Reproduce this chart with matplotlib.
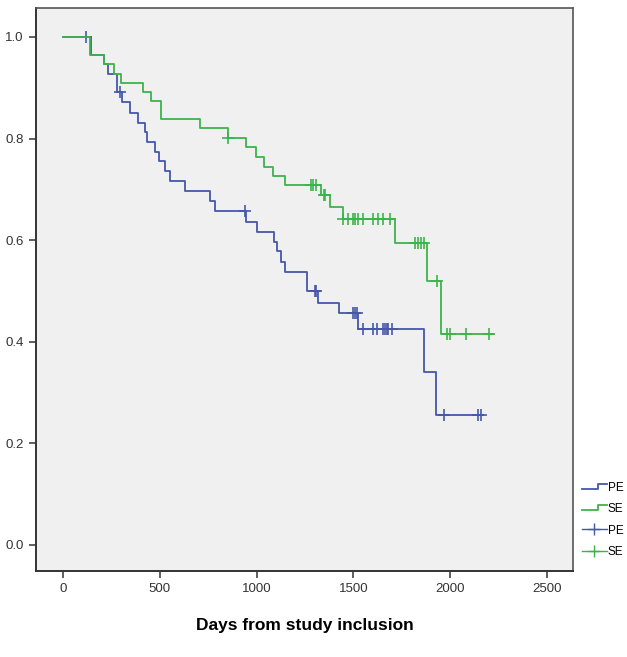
import numpy as np
import matplotlib
matplotlib.use("Agg")
import matplotlib.pyplot as plt
from matplotlib.lines import Line2D
from matplotlib.legend_handler import HandlerBase

plt.rcParams['font.family'] = ['Liberation Sans', 'DejaVu Sans']

# DADOS - curvas de Kaplan-Meier

# PE (azul): tempos dos eventos e sobrevida apos cada evento
pe_times = [143, 210, 232, 277, 303, 346, 389, 424, 434, 475, 497, 527, 553,
            630, 759, 785, 945, 1000, 1090, 1105, 1126, 1147, 1258, 1319,
            1427, 1522, 1865, 1925]
pe_surv = [0.964, 0.946, 0.927, 0.891, 0.871, 0.851, 0.831, 0.812, 0.793,
           0.774, 0.755, 0.736, 0.717, 0.697, 0.677, 0.657, 0.636, 0.617,
           0.597, 0.579, 0.558, 0.538, 0.499, 0.477, 0.456, 0.425, 0.341,
           0.256]
pe_end = 2170
pe_censored = [119, 294, 940, 1300, 1307, 1500, 1510, 1517, 1550, 1601, 1622,
               1653, 1663, 1672, 1679, 1699, 1968, 2145, 2157]

# SE (verde)
se_times = [140, 210, 265, 300, 415, 455, 505, 705, 850, 945, 995, 1040,
            1085, 1145, 1335, 1380, 1445, 1715, 1878, 1952]
se_surv = [0.964, 0.946, 0.928, 0.910, 0.892, 0.874, 0.838, 0.820, 0.802,
           0.783, 0.764, 0.745, 0.727, 0.709, 0.689, 0.666, 0.642, 0.594,
           0.520, 0.416]
se_end = 2221
se_censored = [854, 1280, 1290, 1305, 1348, 1355, 1448, 1474, 1496, 1508,
               1525, 1551, 1603, 1629, 1655, 1689, 1818, 1835, 1850, 1865,
               1932, 1982, 1999, 2082, 2200]

x_ticks = [0, 500, 1000, 1500, 2000, 2500]
y_ticks = [0.0, 0.2, 0.4, 0.6, 0.8, 1.0]
legend_labels = ['PE', 'SE', 'PE', 'SE']

BLUE = '#4657a8'
GREEN = '#3cb44c'

# FUNCOES AUXILIARES

# monta a curva em degraus a partir dos eventos
def step_curve(times, surv, end):
    t = [0] + list(times) + [end]
    s = [1.0] + list(surv) + [surv[-1]]
    return np.array(t), np.array(s)

# sobrevida no instante de cada censura
def surv_at(t_curve, s_curve, cens):
    idx = np.searchsorted(t_curve, cens, side='right') - 1
    return s_curve[idx]

# simbolo de degrau na legenda (estilo SPSS)
class StepHandler(HandlerBase):
    def create_artists(self, legend, orig, xd, yd, w, h, fontsize, trans):
        x0, y0 = -xd, -yd
        xs = [x0, x0 + 0.65*w, x0 + 0.65*w, x0 + w]
        ys = [y0 + 0.25*h, y0 + 0.25*h, y0 + 0.85*h, y0 + 0.85*h]
        ln = Line2D(xs, ys, color=orig.get_color(), lw=orig.get_linewidth(),
                    transform=trans)
        return [ln]

fig = plt.figure(figsize=(6.27, 6.57), dpi=100)
ax = fig.add_axes([36/627, 86/657, 537/627, 563/657])
ax.set_facecolor('#f0f0f0')

for times, surv, end, cens, color in [
        (pe_times, pe_surv, pe_end, pe_censored, BLUE),
        (se_times, se_surv, se_end, se_censored, GREEN)]:
    t, s = step_curve(times, surv, end)
    ax.plot(t, s, drawstyle='steps-post', color=color, lw=1.3)
    ax.plot(cens, surv_at(t, s, cens), linestyle='none', marker='+',
            color=color, markersize=9, mew=1.2)

ax.set_xlim(-139.5, 2634)
ax.set_ylim(-0.0512, 1.057)
ax.set_xticks(x_ticks)
ax.set_xticklabels([str(v) for v in x_ticks])
ax.set_yticks(y_ticks)
ax.set_yticklabels(['%.1f' % v for v in y_ticks])
ax.tick_params(direction='out', length=5, width=1.2, colors='#444444',
               labelsize=9.5, labelcolor='#333333', pad=4)

for side in ['left', 'bottom']:
    ax.spines[side].set_color('#333333')
    ax.spines[side].set_linewidth(1.4)
for side in ['top', 'right']:
    ax.spines[side].set_color('#555555')
    ax.spines[side].set_linewidth(1.2)

ax.set_xlabel('Days from study inclusion', fontsize=12.5, fontweight='bold',
              labelpad=16)

step_pe = Line2D([], [], color=BLUE, lw=1.3)
step_se = Line2D([], [], color=GREEN, lw=1.3)
handles = [step_pe, step_se,
           Line2D([], [], color=BLUE, lw=1.0, marker='+', markersize=9),
           Line2D([], [], color=GREEN, lw=1.0, marker='+', markersize=9)]
fig.legend(handles, legend_labels,
           loc='upper left', bbox_to_anchor=(577/627, 1 - 477/657),
           frameon=False, fontsize=8.5, handlelength=2.1,
           handletextpad=0.1, labelspacing=0.8, borderaxespad=0,
           handler_map={step_pe: StepHandler(), step_se: StepHandler()})

plt.savefig('out.png', dpi=100)
